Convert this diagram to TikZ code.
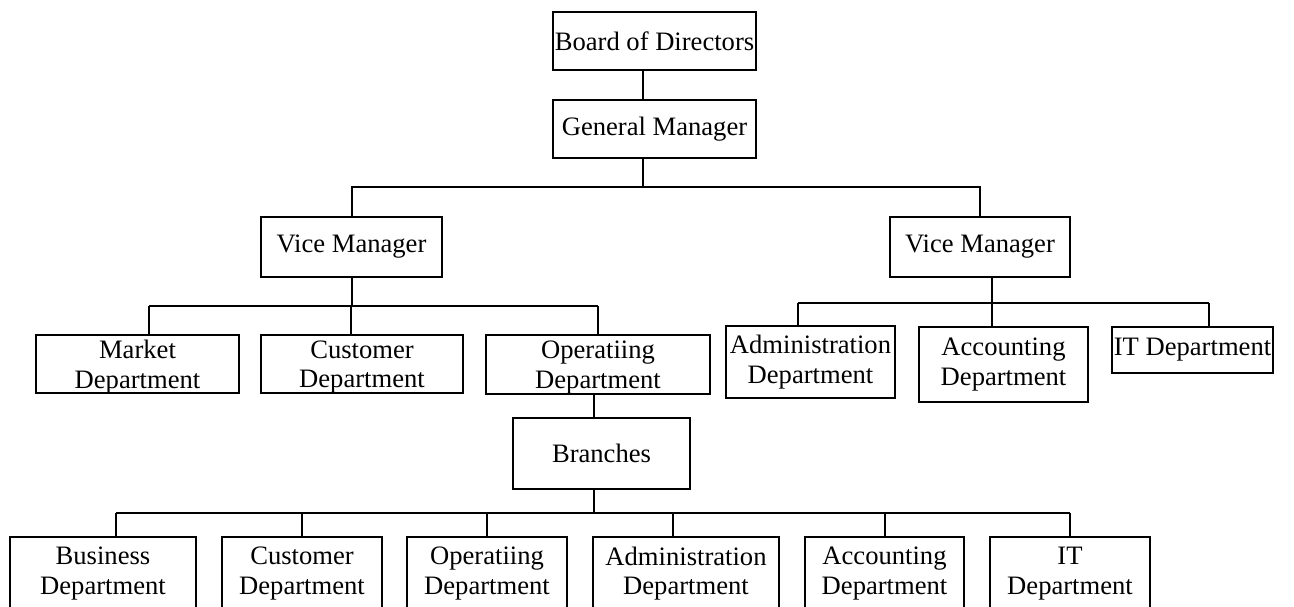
\documentclass[tikz,border=0pt]{standalone}
\usepackage{fontspec}
\setmainfont{Liberation Serif}
\begin{document}
\begin{tikzpicture}[x=0.5pt, y=-0.5pt,
  unit/.style={draw, line width=1pt, inner sep=0pt, align=center,
    font=\fontsize{13.3pt}{14.8pt}\selectfont},
  low/.style={text depth=0pt},
  link/.style={line width=1pt}]
  \useasboundingbox (0,0) rectangle (1294,606);
  \coordinate (busA) at (0,187);
  \coordinate (busB) at (0,306);
  \coordinate (busC) at (0,303);
  \coordinate (busD) at (0,513);

  \node[unit, minimum width=101.5pt, minimum height=29pt] (board) at (654.5,41) {Board of Directors};
  \node[unit, minimum width=101.5pt, minimum height=29pt] (gm) at (654.5,129) {General Manager};
  \node[unit, minimum width=90.5pt, minimum height=30pt] (vpl) at (351.5,247) {Vice Manager};
  \node[unit, minimum width=90pt, minimum height=30pt] (vpr) at (980,247) {Vice Manager};

  \node[unit, low, minimum width=101.5pt, minimum height=29pt] (market) at (137.5,364) {Market\\Department};
  \node[unit, low, minimum width=101pt, minimum height=29pt] (cust) at (362,364) {Customer\\Department};
  \node[unit, low, minimum width=112pt, minimum height=29.5pt] (oper) at (598,364.5) {Operatiing\\Department};

  \node[unit, minimum width=84.5pt, minimum height=36pt] (adm) at (810.5,362) {Administration\\Department};
  \node[unit, minimum width=84.5pt, minimum height=37.5pt] (acc) at (1003.5,364.5) {Accounting\\Department};
  \node[unit, minimum width=80.5pt, minimum height=23pt] (itd) at (1192.5,350) {IT Department};

  \node[unit, minimum width=88.5pt, minimum height=35.5pt] (branch) at (601.5,453.5) {Branches};

  \node[unit, minimum width=93pt, minimum height=36.5pt] (bbus) at (103,573.5) {Business\\Department};
  \node[unit, minimum width=80pt, minimum height=36.5pt] (bcus) at (302,573.5) {Customer\\Department};
  \node[unit, minimum width=80pt, minimum height=36.5pt] (bope) at (487,573.5) {Operatiing\\Department};
  \node[unit, minimum width=93pt, minimum height=36.5pt] (badm) at (686,573.5) {Administration\\Department};
  \node[unit, minimum width=79.5pt, minimum height=36.5pt] (bacc) at (884.5,573.5) {Accounting\\Department};
  \node[unit, minimum width=80pt, minimum height=36.5pt] (bitd) at (1070,573.5) {IT\\Department};

  \draw[link] ([xshift=-5.75pt]board.south) -- ([xshift=-5.75pt]gm.north);
  \draw[link] ([xshift=-5.75pt]gm.south) coordinate (gm-b) -- (gm-b |- busA);
  \draw[link] (vpl.north) |- (vpr.north |- busA) -- (vpr.north);

  \draw[link] (vpl.south) -- (vpl.south |- busB);
  \foreach \n/\dx in {market/5.75pt, cust/-5.5pt, oper/0pt}
    \draw[link] ([xshift=\dx]\n.north) coordinate (\n-t) -- (\n-t |- busB);
  \draw[link] (market-t |- busB) -- (oper-t |- busB);

  \draw[link] ([xshift=6pt]vpr.south) coordinate (vpr-b) -- (vpr-b |- busC);
  \foreach \n/\dx in {adm/-6.25pt, acc/-5.75pt, itd/8.25pt}
    \draw[link] ([xshift=\dx]\n.north) coordinate (\n-t) -- (\n-t |- busC);
  \draw[link] (adm-t |- busC) -- (itd-t |- busC);

  \draw[link] ([xshift=-2pt]oper.south) coordinate (oper-b) -- (oper-b |- branch.north);
  \draw[link] ([xshift=-3.75pt]branch.south) coordinate (branch-b) -- (branch-b |- busD);
  \foreach \n/\dx in {bbus/6.5pt, bcus/0pt, bope/0pt, badm/-6.5pt, bacc/0pt, bitd/0pt}
    \draw[link] ([xshift=\dx]\n.north) coordinate (\n-t) -- (\n-t |- busD);
  \draw[link] (bbus-t |- busD) -- (bitd-t |- busD);
\end{tikzpicture}
\end{document}
